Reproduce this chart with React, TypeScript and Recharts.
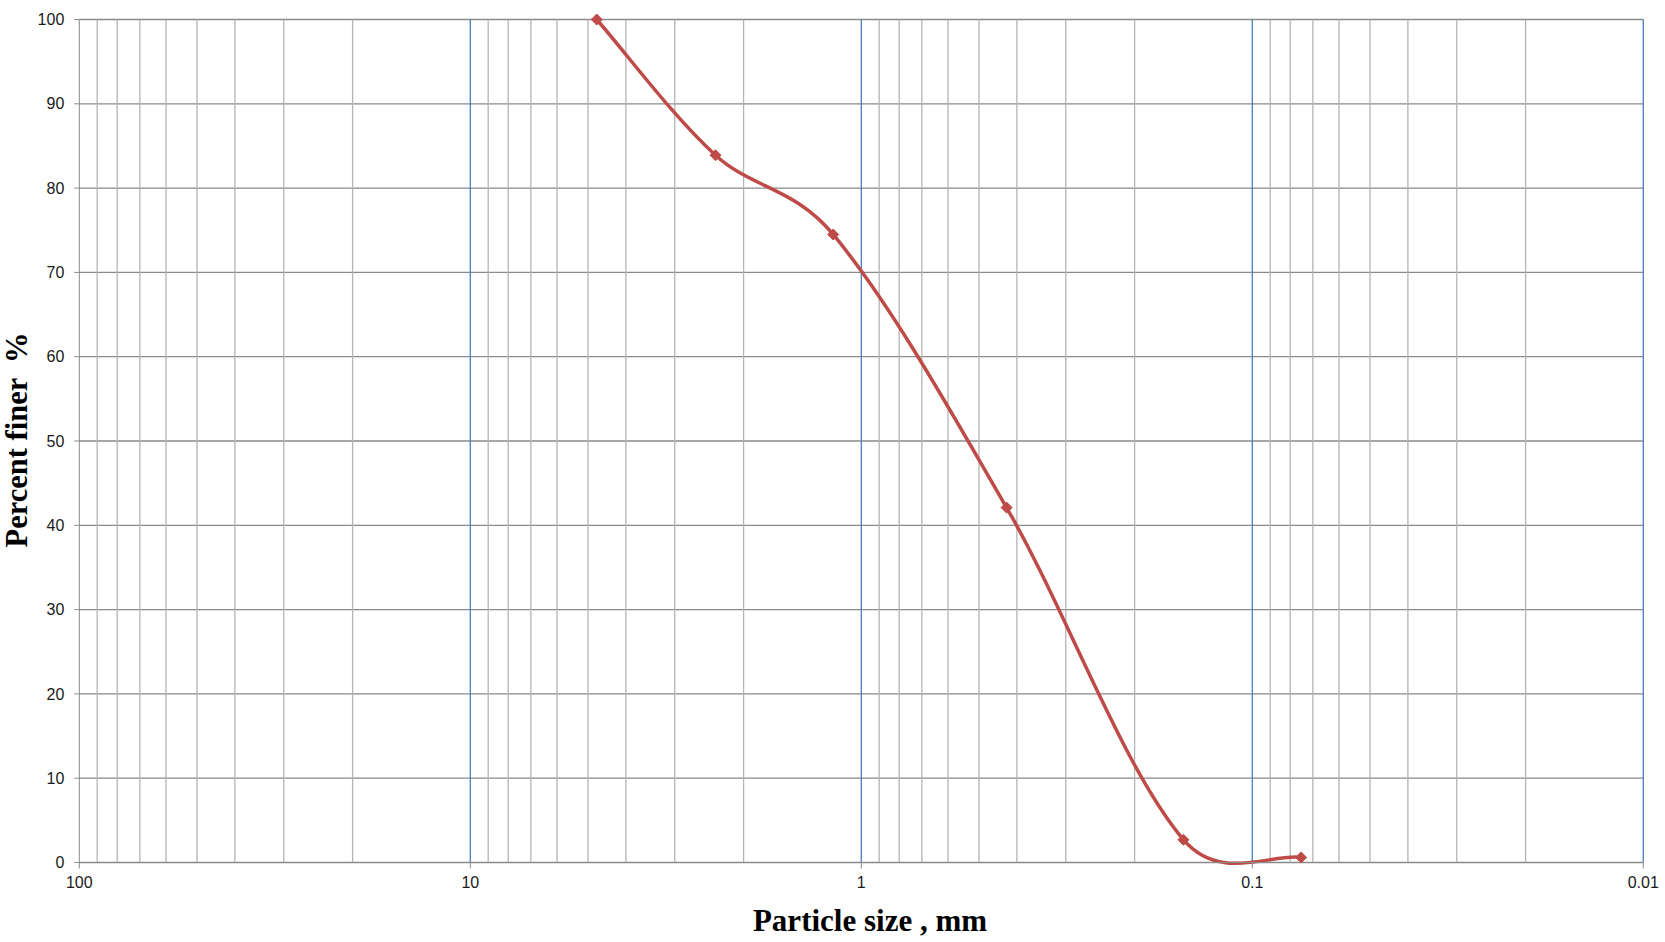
import React from 'react';
import { LineChart, Line, XAxis, YAxis, CartesianGrid, ReferenceLine } from 'recharts';

// sieve sizes (mm) and percent passing
const sizes = [4.75, 2.36, 1.18, 0.425, 0.15, 0.075];
const percentFiner = [100, 83.9, 74.5, 42.1, 2.7, 0.6];

const xTicks = [100, 10, 1, 0.1, 0.01];
const yTicks = [0, 10, 20, 30, 40, 50, 60, 70, 80, 90, 100];
const majorLines = [10, 1, 0.1, 0.01];
const decadeStarts = [10, 1, 0.1, 0.01];
const minorSteps = [2, 3, 4, 5, 6, 7, 8, 9];

const data = sizes.map((s, i) => ({ size: s, finer: percentFiner[i] }));
const minorLines = decadeStarts.flatMap((d) => minorSteps.map((k) => +(d * k).toPrecision(3)));

const dist = (a: number[], b: number[]) => Math.hypot(b[0] - a[0], b[1] - a[1]);

// excel-like smoothed line: catmull-rom tangents, partly weighted by segment lengths
const tangentFactor = (dIn: number, dOut: number) => {
  const weighted = dIn + dOut > 0 ? dOut / (dIn + dOut) / 3 : 0;
  return (1 / 6 + weighted) / 2;
};

const excelSmooth: any = (context: any) => {
  let pts: number[][] = [];
  return {
    areaStart() {},
    areaEnd() {},
    lineStart() {
      pts = [];
    },
    point(x: number, y: number) {
      pts.push([+x, +y]);
    },
    lineEnd() {
      const n = pts.length;
      if (!n) return;
      context.moveTo(pts[0][0], pts[0][1]);
      for (let i = 0; i < n - 1; i++) {
        const p0 = pts[Math.max(i - 1, 0)];
        const p1 = pts[i];
        const p2 = pts[i + 1];
        const p3 = pts[Math.min(i + 2, n - 1)];
        const d12 = dist(p1, p2);
        const f1 = tangentFactor(dist(p0, p1), d12);
        const f2 = tangentFactor(dist(p2, p3), d12);
        context.bezierCurveTo(
          p1[0] + (p2[0] - p0[0]) * f1,
          p1[1] + (p2[1] - p0[1]) * f1,
          p2[0] - (p3[0] - p1[0]) * f2,
          p2[1] - (p3[1] - p1[1]) * f2,
          p2[0],
          p2[1]
        );
      }
    },
  };
};

const Diamond = (props: any) => {
  const { cx, cy, index } = props;
  const r = 5.5;
  return (
    <polygon
      key={`d-${index}`}
      points={`${cx},${cy - r} ${cx + r},${cy} ${cx},${cy + r} ${cx - r},${cy}`}
      fill="#BE4B48"
      stroke="#BE4B48"
      strokeWidth={1}
    />
  );
};

const tickStyle = { fill: '#1a1a1a', fontSize: 16, fontFamily: '"Liberation Sans", Arial, sans-serif' };

const App: React.FC = () => {
  return (
    <div style={{ position: 'absolute', left: 0, top: 0, width: 1665, height: 942, background: '#fff' }}>
      <LineChart
        width={1665}
        height={942}
        data={data}
        margin={{ top: 19.5, right: 21.7, left: 19.3, bottom: 49.5 }}
      >
        <CartesianGrid vertical={false} stroke="#8a8a8a" strokeWidth={1.3} />
        {minorLines.map((v) => (
          <ReferenceLine key={`m-${v}`} x={v} stroke="#b4b4b4" strokeWidth={1.3} />
        ))}
        {majorLines.map((v) => (
          <ReferenceLine key={`M-${v}`} x={v} stroke="#4a7ebb" strokeWidth={1.3} />
        ))}
        <XAxis
          dataKey="size"
          type="number"
          scale="log"
          domain={[0.01, 100]}
          reversed
          ticks={xTicks}
          interval={0}
          height={30}
          stroke="#8a8a8a"
          tickSize={6}
          tick={tickStyle}
          tickMargin={8}
          allowDataOverflow
        />
        <YAxis
          type="number"
          domain={[0, 100]}
          ticks={yTicks}
          interval={0}
          width={60}
          stroke="#8a8a8a"
          tickSize={5}
          tickMargin={10}
          tick={tickStyle}
        />
        <Line
          dataKey="finer"
          type={excelSmooth}
          stroke="#BE4B48"
          strokeWidth={3.5}
          dot={Diamond}
          activeDot={false}
          isAnimationActive={false}
        />
      </LineChart>
      <svg
        width={1665}
        height={942}
        style={{ position: 'absolute', left: 0, top: 0, pointerEvents: 'none' }}
      >
        <text
          x={870}
          y={931}
          textAnchor="middle"
          fontFamily='"Liberation Serif", "Times New Roman", serif'
          fontWeight="bold"
          fontSize={31}
          fill="#000"
        >
          Particle size , mm
        </text>
        <text
          x={27}
          y={440}
          transform="rotate(-90 27 440)"
          textAnchor="middle"
          fontFamily='"Liberation Serif", "Times New Roman", serif'
          fontWeight="bold"
          fontSize={30.5}
          fill="#000"
          style={{ whiteSpace: 'pre' }}
        >
          {'Percent finer  %'}
        </text>
      </svg>
    </div>
  );
};

export default App;
